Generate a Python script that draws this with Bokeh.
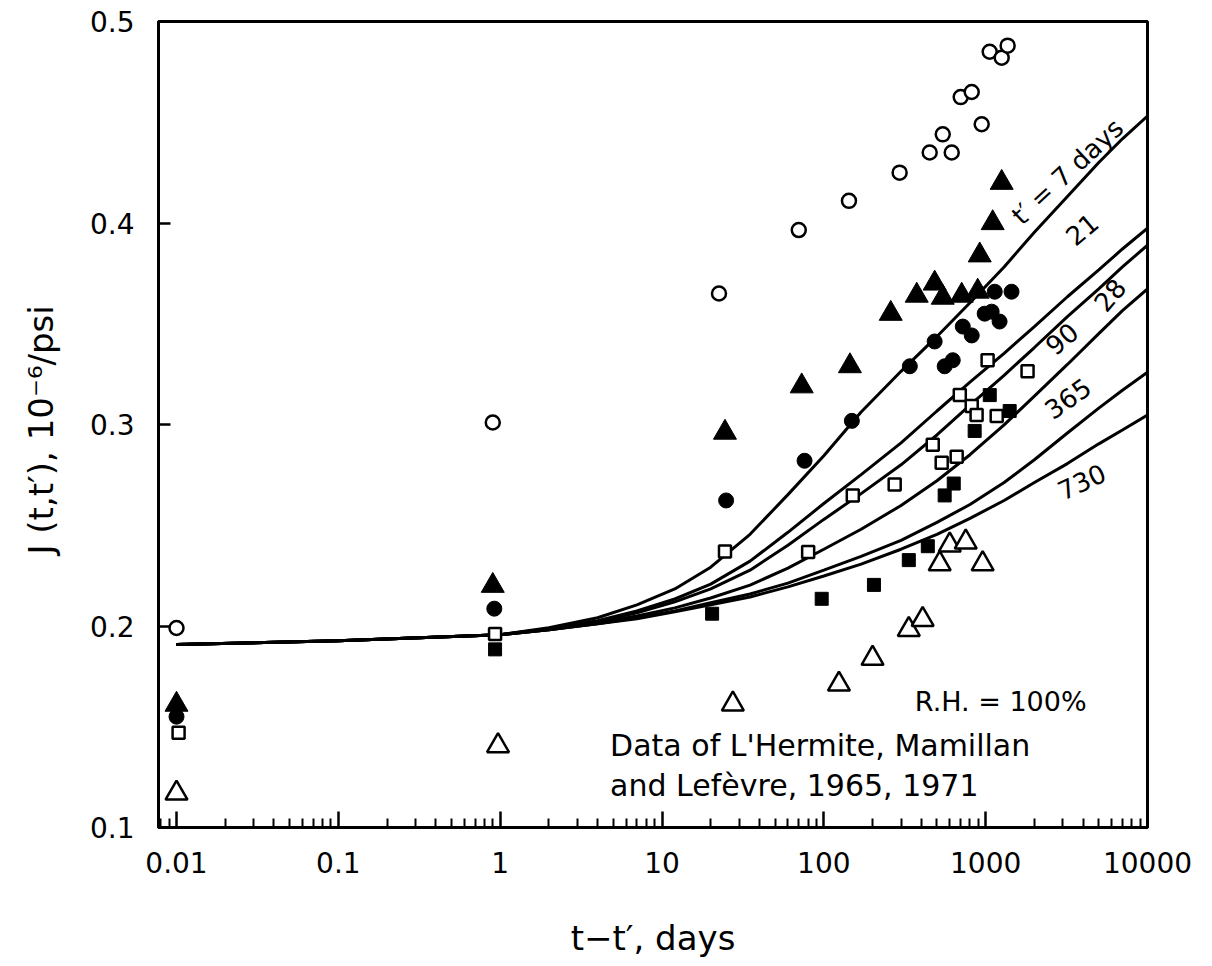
import math
from bokeh.plotting import figure
from bokeh.models import FixedTicker, Label
from bokeh.embed import file_html
from bokeh.resources import INLINE

FONT = "DejaVu Sans"

# ---- fitted curves, t - t' in days ----
curve_x = [0.01, 0.1, 1, 2, 4, 7, 12, 20, 35, 60, 100, 170, 300, 500, 800, 1300, 2000, 3200, 5000, 7000, 10000]
c7 = [0.1908, 0.1927, 0.1957, 0.1991, 0.2041, 0.2105, 0.2184, 0.2292, 0.2455, 0.2652, 0.2845, 0.3062,
      0.3264, 0.3437, 0.3604, 0.3782, 0.3954, 0.4132, 0.4300, 0.4418, 0.4531]
c21 = [0.1908, 0.1927, 0.1957, 0.1986, 0.2026, 0.2075, 0.2134, 0.2208, 0.2322, 0.2465, 0.2608, 0.2751,
       0.2909, 0.3067, 0.3210, 0.3353, 0.3486, 0.3634, 0.3767, 0.3871, 0.3974]
c28 = [0.1908, 0.1927, 0.1957, 0.1986, 0.2021, 0.2065, 0.2120, 0.2184, 0.2277, 0.2401, 0.2529, 0.2657,
       0.2800, 0.2948, 0.3096, 0.3244, 0.3382, 0.3535, 0.3673, 0.3782, 0.3890]
c90 = [0.1908, 0.1927, 0.1957, 0.1981, 0.2016, 0.2050, 0.2090, 0.2139, 0.2203, 0.2287, 0.2381, 0.2480,
       0.2598, 0.2721, 0.2850, 0.2998, 0.3141, 0.3298, 0.3451, 0.3565, 0.3673]
c365 = [0.1908, 0.1927, 0.1957, 0.1981, 0.2011, 0.2041, 0.2075, 0.2115, 0.2159, 0.2213, 0.2277, 0.2346,
        0.2425, 0.2514, 0.2603, 0.2712, 0.2825, 0.2958, 0.3081, 0.3170, 0.3259]
c730 = [0.1908, 0.1927, 0.1957, 0.1981, 0.2011, 0.2036, 0.2070, 0.2105, 0.2144, 0.2194, 0.2248, 0.2307,
        0.2381, 0.2455, 0.2534, 0.2623, 0.2712, 0.2806, 0.2904, 0.2973, 0.3047]
curves = [c7, c21, c28, c90, c365, c730]

# curve labels: text, x, y, angle (deg)
curve_labels = ["t\u2032 = 7 days", "21", "28", "90", "365", "730"]
label_x = [3206, 3917, 5823, 2944, 3206, 3917]
label_y = [0.4255, 0.3970, 0.3644, 0.3427, 0.3131, 0.2717]
label_ang = [43, 40, 50, 40, 35, 25]

# ---- measured data ----
oc_x = [0.01, 0.9, 22.5, 70, 143, 294, 451, 543, 617, 701, 820, 945, 1059, 1256, 1367]
oc_y = [0.199, 0.301, 0.365, 0.3965, 0.411, 0.425, 0.435, 0.444, 0.435, 0.4625, 0.465, 0.449, 0.485, 0.482, 0.488]
ft_x = [0.01, 0.9, 24.5, 73, 145, 259, 375, 484, 543, 711, 893, 919, 1105, 1256]
ft_y = [0.161, 0.220, 0.296, 0.319, 0.329, 0.355, 0.364, 0.370, 0.363, 0.364, 0.366, 0.384, 0.400, 0.420]
fc_x = [0.01, 0.92, 24.9, 76, 149, 340, 484, 558, 626, 722, 820, 986, 1089, 1138, 1219, 1445]
fc_y = [0.155, 0.2086, 0.2623, 0.282, 0.3018, 0.3289, 0.3412, 0.3289, 0.3319, 0.3486, 0.3442, 0.355, 0.356, 0.3659, 0.3511, 0.3659]
os_x = [0.0103, 0.93, 24.5, 80, 151, 274, 471, 535, 662, 692, 820, 879, 1028, 1170, 1815]
os_y = [0.147, 0.196, 0.237, 0.2367, 0.2648, 0.2702, 0.290, 0.281, 0.284, 0.3146, 0.3092, 0.3047, 0.3319, 0.3042, 0.3264]
fs_x = [0.93, 20.4, 97, 204, 335, 439, 558, 635, 855, 1060, 1407]
fs_y = [0.1884, 0.2061, 0.2135, 0.2204, 0.2327, 0.2396, 0.2648, 0.2707, 0.2968, 0.3146, 0.3067]
ot_x = [0.01, 0.97, 27.4, 124, 200, 335, 408, 520, 600, 753, 958]
ot_y = [0.117, 0.1405, 0.1612, 0.1711, 0.1839, 0.1982, 0.2032, 0.2308, 0.2401, 0.2416, 0.2308]

x_ticks = [0.01, 0.1, 1, 10, 100, 1000, 10000]
x_tick_labels = ["0.01", "0.1", "1", "10", "100", "1000", "10000"]
y_ticks = [0.1, 0.2, 0.3, 0.4, 0.5]
y_tick_labels = ["0.1", "0.2", "0.3", "0.4", "0.5"]

p = figure(width=1200, height=960, x_axis_type="log",
           x_range=(0.00774, 10000), y_range=(0.1, 0.5),
           output_backend="svg", toolbar_location=None,
           min_border_left=158, min_border_right=53,
           min_border_top=21, min_border_bottom=128)
p.grid.visible = False
p.outline_line_color = "black"
p.outline_line_width = 3
p.background_fill_color = "white"
p.border_fill_color = "white"

for c in curves:
    p.line(curve_x, c, line_color="black", line_width=3)

p.scatter(oc_x, oc_y, marker="circle", size=14, fill_color="white", line_color="black", line_width=2.5)
p.scatter(os_x, os_y, marker="square", size=12, fill_color="white", line_color="black", line_width=2.5)
p.scatter(fs_x, fs_y, marker="square", size=13, fill_color="black", line_color="black")
p.scatter(fc_x, fc_y, marker="circle", size=15, fill_color="black", line_color="black")
p.scatter(ft_x, ft_y, marker="triangle", size=23, fill_color="black", line_color="black")
p.scatter(ot_x, ot_y, marker="triangle", size=22, fill_color="white", line_color="black", line_width=2.5)

for t, lx, ly, la in zip(curve_labels, label_x, label_y, label_ang):
    p.add_layout(Label(x=lx, y=ly, text=t, angle=math.radians(la), text_align="center",
                       text_baseline="middle", text_font=FONT, text_font_size="26px",
                       text_color="black"))

p.add_layout(Label(x=365, y=0.1627, text="R.H. = 100%", text_align="left", text_baseline="middle",
                   text_font=FONT, text_font_size="27px", text_color="black"))
p.add_layout(Label(x=4.78, y=0.1405, text="Data  of  L'Hermite,  Mamillan", text_align="left",
                   text_baseline="middle", text_font=FONT, text_font_size="30px", text_color="black"))
p.add_layout(Label(x=4.78, y=0.1208, text="and  Lef\u00e8vre, 1965, 1971", text_align="left",
                   text_baseline="middle", text_font=FONT, text_font_size="30px", text_color="black"))

# x axis
minor = [k * 10.0 ** e for e in range(-3, 4) for k in range(2, 10)]
p.xaxis.ticker = FixedTicker(ticks=x_ticks, minor_ticks=minor)
p.xaxis.major_label_overrides = {t: s for t, s in zip(x_ticks, x_tick_labels)}
p.xaxis.axis_label = "t\u2212t\u2032, days"
p.xaxis.major_tick_in = 16
p.xaxis.major_tick_out = 0
p.xaxis.minor_tick_in = 9
p.xaxis.minor_tick_out = 0
p.xaxis.major_label_standoff = 24
p.xaxis.axis_label_standoff = 42

# y axis
p.yaxis.ticker = FixedTicker(ticks=y_ticks, minor_ticks=[])
p.yaxis.major_label_overrides = {t: s for t, s in zip(y_ticks, y_tick_labels)}
p.yaxis.axis_label = "J (t,t\u2032),  10\u207b\u2076/psi"
p.yaxis.major_tick_in = 12
p.yaxis.major_tick_out = 0
p.yaxis.minor_tick_line_color = None
p.yaxis.major_label_standoff = 24
p.yaxis.axis_label_standoff = 26

for ax in (p.xaxis[0], p.yaxis[0]):
    ax.axis_line_width = 3
    ax.axis_line_color = "black"
    ax.major_tick_line_width = 2.5
    ax.minor_tick_line_width = 2
    ax.major_label_text_font = FONT
    ax.major_label_text_font_size = "28px"
    ax.major_label_text_color = "black"
    ax.axis_label_text_font = FONT
    ax.axis_label_text_font_size = "34px"
    ax.axis_label_text_font_style = "normal"
    ax.axis_label_text_color = "black"

open("out.html", "w").write(file_html(p, INLINE))
